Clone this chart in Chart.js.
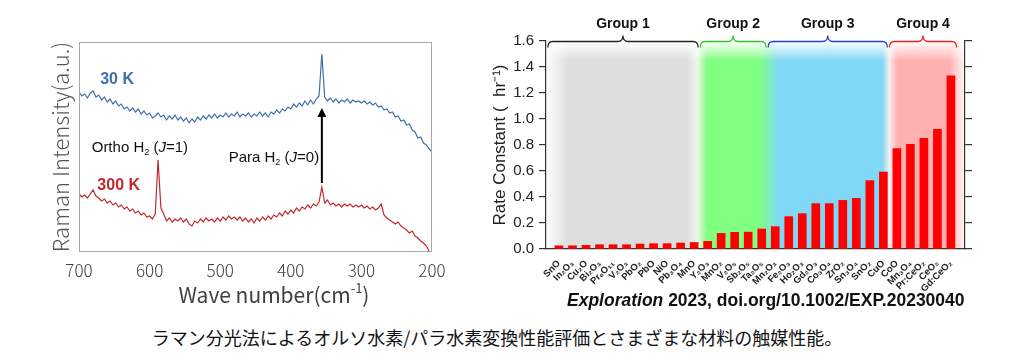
<!DOCTYPE html>
<html lang="ja">
<head>
<meta charset="UTF-8">
<title>オルソ/パラ水素変換</title>
<script src="https://cdn.jsdelivr.net/npm/chart.js@4.4.1/dist/chart.umd.min.js"></script>
<style>
  body { margin: 0; background: #fff; width: 1027px; height: 364px; position: relative; overflow: hidden; }
  #ramanWrap { position: absolute; left: 0; top: 0; width: 470px; height: 310px; }
  #rateWrap { position: absolute; left: 480px; top: 0; width: 520px; height: 300px; }
  .doi { position: absolute; left: 567px; top: 289px; font: bold 17.5px Arial, "Liberation Sans", sans-serif; line-height: 22px; color: #111; white-space: nowrap; }
  .caption { position: absolute; left: 0; width: 994px; top: 325px; text-align: center; font-size: 18px; line-height: 24px; font-family: "Noto Sans CJK JP", sans-serif; color: #111; }
</style>
</head>
<body>
<div id="ramanWrap"><canvas id="ramanChart"></canvas></div>
<div id="rateWrap"><canvas id="rateChart"></canvas></div>
<div class="doi"><i>Exploration</i> 2023, doi.org/10.1002/EXP.20230040</div>
<div class="caption">ラマン分光法によるオルソ水素/パラ水素変換性能評価とさまざまな材料の触媒性能。</div>

<script>
// --- Raman spectra (left) ---
const waveNumbers = [
  700,696,692,688,684,680,676,672,668,664,660,656,652,648,644,640,
  636,632,628,624,620,616,612,608,604,600,596,592,588,584,580,576,
  572,568,564,560,556,552,548,544,540,536,532,528,524,520,516,512,
  508,504,500,496,492,488,484,480,476,472,468,464,460,456,452,448,
  444,440,436,432,428,424,420,416,412,408,404,400,396,392,388,384,
  380,376,372,368,364,360,356,352,348,344,340,336,332,328,324,320,
  316,312,308,304,300,296,292,288,284,280,276,272,268,264,260,256,
  252,248,244,240,236,232,228,224,220,216,212,208,204,200
];
const spectrum30K = [
  160,156,158,154,159,161,155,157,152,155,150,153,148,151,146,148,
  143,145,141,144,140,143,138,141,137,139,134,136,139,135,137,132,
  136,133,137,132,135,131,134,129,133,130,135,132,136,133,137,134,
  138,134,137,135,139,135,138,136,140,135,138,136,139,135,138,136,
  140,136,139,135,140,138,142,139,143,141,145,143,148,145,149,146,
  151,147,152,148,153,156,198,155,151,154,150,153,149,152,150,153,
  149,152,150,151,149,151,148,150,147,149,145,146,142,143,139,140,
  135,136,131,132,127,128,122,120,114,115,109,107,103,100
];
const spectrum300K = [
  58,55,57,54,58,62,56,54,51,53,49,51,47,49,45,47,
  43,45,41,43,39,41,37,39,35,36,33,38,92,44,38,31,
  34,30,33,31,34,30,33,28,26,31,29,33,30,34,31,33,
  30,34,31,35,32,36,33,35,32,35,31,34,30,33,29,34,
  31,35,32,36,33,37,35,39,36,41,38,42,39,44,41,45,
  43,47,44,48,46,50,65,49,52,47,49,46,48,45,48,46,
  48,45,47,45,47,44,46,43,45,42,44,48,37,34,32,30,
  28,30,26,24,22,19,21,16,14,11,9,6,1,null
];
const paraPeak = 356;

// --- Rate constants (right) ---
const catalystNames = ['SnO','In₂O₃','Cu₂O','Bi₂O₃','Pr₆O₁₁','V₂O₃','PbO₂','PbO','NiO','Pb₃O₄',
  'MnO','Y₂O₃','MnO₂','V₂O₅','Sb₂O₅','Ta₂O₅','Mn₂O₃','Fe₂O₃','Ho₂O₃','Gd₂O₃',
  'Co₃O₄','ZrO₂','Sn₃O₄','SnO₂','CuO','CoO','Mn₃O₄','Pr:CeO₂','CeO₂','Gd:CeO₂'];
const rateValues = [0.025,0.025,0.028,0.033,0.033,0.033,0.038,0.041,0.041,0.046,
  0.05,0.059,0.12,0.128,0.13,0.154,0.172,0.249,0.272,0.349,
  0.349,0.374,0.39,0.526,0.592,0.772,0.805,0.851,0.92,1.333];
const groupNames = ['Group 1', 'Group 2', 'Group 3', 'Group 4'];
// group borders in category index units (first start, inner borders, last end)
const groupBorders = [-0.9, 10.37, 15.4, 24.37, 29.5];

const BLUE = '#3f70ab';
const RED = '#c0282d';
const JP_FONT = '"Noto Sans CJK JP", "Noto Sans", sans-serif';
const ARIAL = 'Arial, "Liberation Sans", sans-serif';

// draw text pieces (normal / sub / sup / italic) left to right
function drawRich(ctx, parts, x, y, size, family, align) {
  const fontOf = p => `${p.italic ? 'italic ' : ''}${p.bold ? 'bold ' : ''}${p.sub || p.sup ? Math.round(size * 0.62) : size}px ${family}`;
  let total = 0;
  parts.forEach(p => { ctx.font = fontOf(p); total += ctx.measureText(p.t).width; });
  let cx = align === 'center' ? x - total / 2 : x;
  ctx.textAlign = 'left';
  ctx.textBaseline = 'middle';
  parts.forEach(p => {
    ctx.font = fontOf(p);
    const dy = p.sub ? size * 0.3 : (p.sup ? -size * 0.35 : 0);
    ctx.fillText(p.t, cx, y + dy);
    cx += ctx.measureText(p.t).width;
  });
}

const ramanDecor = {
  id: 'ramanDecor',
  afterDatasetsDraw(chart) {
    const { ctx, chartArea: a, scales: { x, y } } = chart;
    ctx.save();
    ctx.strokeStyle = '#a8a8a8';
    ctx.lineWidth = 1;
    ctx.strokeRect(a.left + 0.5, a.top + 0.5, a.right - a.left - 1, a.bottom - a.top - 1);

    ctx.textBaseline = 'middle';
    ctx.textAlign = 'left';
    ctx.font = 'bold 16px ' + ARIAL;
    ctx.fillStyle = BLUE;
    ctx.fillText('30 K', x.getPixelForValue(670), y.getPixelForValue(172));
    ctx.fillStyle = RED;
    ctx.fillText('300 K', x.getPixelForValue(674), y.getPixelForValue(66));

    ctx.fillStyle = '#111';
    drawRich(ctx, [{ t: 'Ortho H' }, { t: '2', sub: true }, { t: ' (' }, { t: 'J', italic: true }, { t: '=1)' }],
      x.getPixelForValue(682), y.getPixelForValue(104), 15, ARIAL);
    drawRich(ctx, [{ t: 'Para H' }, { t: '2', sub: true }, { t: ' (' }, { t: 'J', italic: true }, { t: '=0)' }],
      x.getPixelForValue(488), y.getPixelForValue(94), 15, ARIAL);

    // arrow from the para peak of 300 K up to 30 K
    const ax = x.getPixelForValue(paraPeak);
    const y0 = y.getPixelForValue(69), y1 = y.getPixelForValue(144);
    ctx.strokeStyle = '#000';
    ctx.lineWidth = 2;
    ctx.beginPath();
    ctx.moveTo(ax, y0);
    ctx.lineTo(ax, y1 + 6);
    ctx.stroke();
    ctx.fillStyle = '#000';
    ctx.beginPath();
    ctx.moveTo(ax, y1);
    ctx.lineTo(ax - 4.5, y1 + 9);
    ctx.lineTo(ax + 4.5, y1 + 9);
    ctx.closePath();
    ctx.fill();

    // x axis title
    ctx.fillStyle = '#404040';
    drawRich(ctx, [{ t: 'Wave number(cm' }, { t: '-1', sup: true }, { t: ')' }], 274, 295, 21, JP_FONT, 'center');
    ctx.restore();
  }
};

new Chart(document.getElementById('ramanChart'), {
  type: 'line',
  data: {
    datasets: [
      { label: '30 K', data: waveNumbers.map((w, i) => ({ x: w, y: spectrum30K[i] })), borderColor: BLUE, borderWidth: 1.2, pointRadius: 0, tension: 0 },
      { label: '300 K', data: waveNumbers.map((w, i) => ({ x: w, y: spectrum300K[i] })), borderColor: RED, borderWidth: 1.2, pointRadius: 0, tension: 0 }
    ]
  },
  options: {
    responsive: true,
    maintainAspectRatio: false,
    animation: false,
    layout: { padding: { top: 42, right: 38, left: 0, bottom: 0 } },
    plugins: { legend: { display: false }, tooltip: { enabled: false } },
    scales: {
      x: {
        type: 'linear', reverse: true, min: 200, max: 700,
        grid: { display: false }, border: { display: false },
        ticks: { stepSize: 100, padding: 0, color: '#404040', font: { family: JP_FONT, size: 17, weight: 300 } },
        afterFit: s => { s.height = 58; }
      },
      y: {
        min: 0, max: 210,
        grid: { display: false }, border: { display: false },
        ticks: { display: false },
        title: { display: true, text: 'Raman Intensity(a.u.)', color: '#555', padding: { top: 47, bottom: 0 }, font: { family: JP_FONT, size: 22, weight: 300 } },
        afterFit: s => { s.width = 79; }
      }
    }
  },
  plugins: [ramanDecor]
});

// --- bar chart decorations: coloured bands and group braces ---
const bandColors = ['rgb(221,221,221)', 'rgb(128,255,128)', 'rgb(128,216,246)', 'rgb(255,176,176)'];
const braceColors = ['#222', '#33c033', '#2a3fcc', '#e82020'];

function drawBrace(ctx, x0, x1, y, color) {
  const cx = (x0 + x1) / 2, r = 5;
  ctx.strokeStyle = color;
  ctx.lineWidth = 1.3;
  ctx.beginPath();
  ctx.moveTo(x0, y + 6);
  ctx.quadraticCurveTo(x0, y, x0 + r, y);
  ctx.lineTo(cx - r, y);
  ctx.quadraticCurveTo(cx, y, cx, y - 6);
  ctx.quadraticCurveTo(cx, y, cx + r, y);
  ctx.lineTo(x1 - r, y);
  ctx.quadraticCurveTo(x1, y, x1, y + 6);
  ctx.stroke();
}

const groupDecor = {
  id: 'groupDecor',
  beforeDraw(chart) {
    const a = chart.chartArea, xs = chart.scales.x;
    const w = Math.round(a.right - a.left), h = Math.round(a.bottom - a.top);
    const off = document.createElement('canvas');
    off.width = w; off.height = h;
    const o = off.getContext('2d');
    const px = v => xs.getPixelForValue(v) - a.left;
    const b1 = px(groupBorders[1]), b2 = px(groupBorders[2]), b3 = px(groupBorders[3]);
    const g = o.createLinearGradient(0, 0, w, 0);
    const stop = (p, c) => g.addColorStop(Math.min(1, Math.max(0, p / w)), c);
    stop(0, 'rgba(221,221,221,0)');
    stop(22, bandColors[0]);
    stop(b1 - 12, bandColors[0]);
    stop(b1 - 2, '#eef5ee');
    stop(b1 + 8, bandColors[1]);
    stop(b2 - 8, bandColors[1]);
    stop(b2 + 12, bandColors[2]);
    stop(b3 - 6, bandColors[2]);
    stop(b3 + 1, '#f4eef2');
    stop(b3 + 9, bandColors[3]);
    stop(w - 16, bandColors[3]);
    stop(w, 'rgba(255,176,176,0.1)');
    o.fillStyle = g;
    o.fillRect(0, 0, w, h);
    // soft top edge
    o.globalCompositeOperation = 'destination-in';
    const m = o.createLinearGradient(0, 0, 0, h);
    m.addColorStop(0, 'rgba(0,0,0,0)');
    m.addColorStop(20 / h, 'rgba(0,0,0,1)');
    m.addColorStop(1, 'rgba(0,0,0,1)');
    o.fillStyle = m;
    o.fillRect(0, 0, w, h);
    chart.ctx.drawImage(off, a.left, a.top);
  },
  afterDraw(chart) {
    const { ctx, chartArea: a, scales: { x } } = chart;
    ctx.save();
    groupNames.forEach((name, k) => {
      const x0 = x.getPixelForValue(groupBorders[k]) + 1;
      const x1 = x.getPixelForValue(groupBorders[k + 1]) - 1;
      drawBrace(ctx, x0, x1, a.top + 0.5, braceColors[k]);
      ctx.fillStyle = '#111';
      ctx.font = 'bold 14px ' + ARIAL;
      ctx.textAlign = 'center';
      ctx.textBaseline = 'middle';
      ctx.fillText(name, (x0 + x1) / 2, a.top - 17);
    });
    ctx.restore();
  }
};

new Chart(document.getElementById('rateChart'), {
  type: 'bar',
  data: {
    datasets: [{
      label: 'Rate Constant',
      data: rateValues.map((v, i) => ({ x: i, y: v })),
      backgroundColor: '#ff0000',
      barThickness: 8
    }]
  },
  options: {
    responsive: true,
    maintainAspectRatio: false,
    animation: false,
    layout: { padding: { top: 41, right: 28, left: 0, bottom: 0 } },
    plugins: { legend: { display: false }, tooltip: { enabled: false } },
    scales: {
      x: {
        type: 'linear', min: -0.96, max: 30.04, offset: false,
        grid: { display: false, offset: false },
        border: { display: true, color: '#333', width: 1.2 },
        afterBuildTicks: s => { s.ticks = catalystNames.map((_, i) => ({ value: i })); },
        ticks: {
          autoSkip: false, minRotation: 45, maxRotation: 45, padding: 1,
          color: '#222', font: { family: ARIAL, size: 9.5, weight: 'bold' },
          callback: v => catalystNames[v] ?? ''
        },
        afterFit: s => { s.height = 51; }
      },
      y: {
        min: 0, max: 1.6,
        grid: { drawOnChartArea: false, tickLength: 7, color: '#333', lineWidth: 1.2 },
        border: { display: true, color: '#333', width: 1.2 },
        ticks: { stepSize: 0.2, padding: 5, color: '#222', font: { family: ARIAL, size: 15 }, callback: v => v.toFixed(1) },
        title: { display: true, text: 'Rate Constant (  hr⁻¹)', color: '#222', padding: { top: 10, bottom: 0 }, font: { family: ARIAL, size: 17 } },
        afterFit: s => { s.width = 66; }
      },
      y2: {
        position: 'right', min: 0, max: 1.6,
        grid: { drawOnChartArea: false, tickLength: 7, color: '#333', lineWidth: 1.2 },
        border: { display: true, color: '#333', width: 1.2 },
        ticks: { stepSize: 0.2, display: false },
        afterFit: s => { s.width = 7; }
      }
    }
  },
  plugins: [groupDecor]
});
</script>
</body>
</html>
